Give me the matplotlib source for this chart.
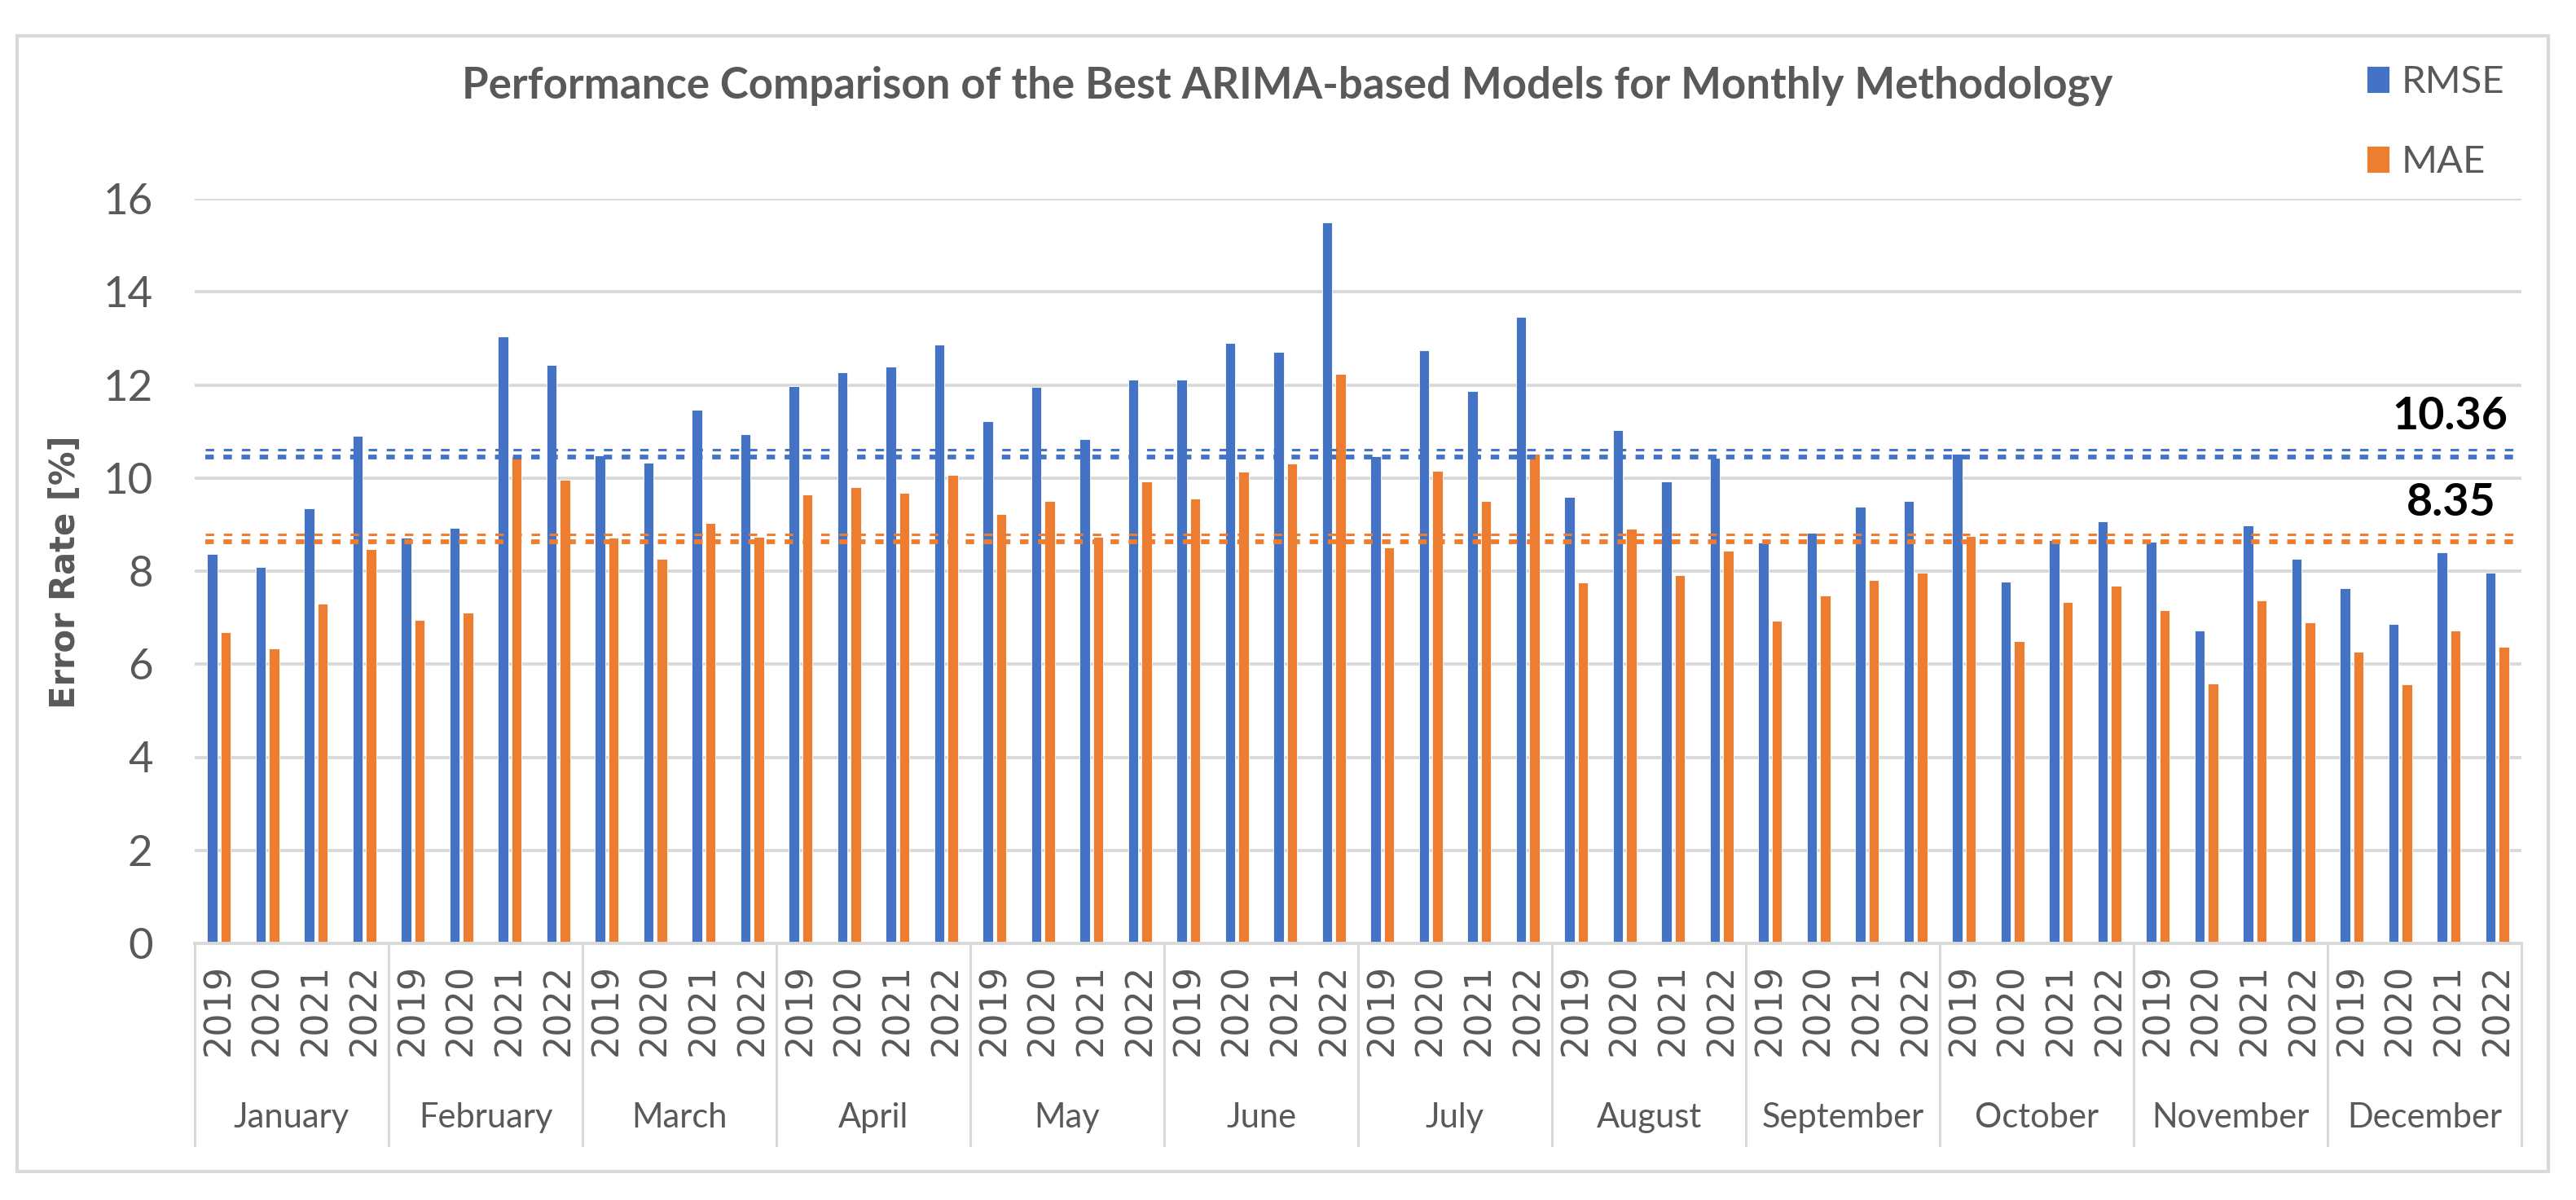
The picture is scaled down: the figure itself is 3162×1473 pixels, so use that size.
import matplotlib
matplotlib.use("Agg")
import matplotlib.pyplot as plt
from matplotlib.patches import Rectangle
from matplotlib import font_manager
import numpy as np

months = ["January", "February", "March", "April", "May", "June", "July",
          "August", "September", "October", "November", "December"]
years = ["2019", "2020", "2021", "2022"]

rmse = [8.36, 8.09, 9.35, 10.90,
        8.71, 8.92, 13.04, 12.43,
        10.49, 10.32, 11.47, 10.94,
        11.98, 12.27, 12.39, 12.87,
        11.22, 11.96, 10.83, 12.12,
        12.12, 12.90, 12.71, 15.50,
        10.47, 12.74, 11.87, 13.47,
        9.60, 11.03, 9.92, 10.43,
        8.61, 8.83, 9.38, 9.51,
        10.52, 7.77, 8.67, 9.07,
        8.63, 6.73, 8.98, 8.27,
        7.64, 6.86, 8.40, 7.97]
mae = [6.68, 6.34, 7.30, 8.47,
       6.95, 7.11, 10.46, 9.96,
       8.71, 8.27, 9.04, 8.73,
       9.64, 9.80, 9.68, 10.07,
       9.22, 9.50, 8.73, 9.92,
       9.55, 10.14, 10.31, 12.23,
       8.51, 10.15, 9.50, 10.52,
       7.76, 8.91, 7.91, 8.44,
       6.93, 7.48, 7.80, 7.96,
       8.76, 6.50, 7.33, 7.68,
       7.16, 5.59, 7.37, 6.90,
       6.27, 5.56, 6.73, 6.38]

avg_line_rmse = 10.53
avg_line_mae = 8.71
avg_label_rmse = "10.36"
avg_label_mae = "8.35"

BLUE = "#4472C4"
ORANGE = "#ED7D31"
GRAY_TXT = "#595959"
GRID = "#D9D9D9"

installed = {f.name for f in font_manager.fontManager.ttflist}
CAL = [f for f in ["Lato", "Open Sans", "DejaVu Sans"] if f in installed] + ["DejaVu Sans"]
plt.rcParams["lines.scale_dashes"] = False

W, H = 3162, 1473
fig = plt.figure(figsize=(W / 100, H / 100), dpi=100)
fig.patch.set_facecolor("white")

# outer border
fig.patches.append(Rectangle((21 / W, 1 - 1438 / H), (3128 - 21) / W, (1438 - 44) / H,
                             transform=fig.transFigure, fill=False,
                             edgecolor=GRID, linewidth=3))

left, right = 239 / W, 3095 / W
bottom = 1 - 1158 / H
top = 1 - 244 / H
ax = fig.add_axes([left, bottom, right - left, top - bottom])

n = len(rmse)
x = np.arange(n)
bw = 0.21
ax.bar(x - 0.135, rmse, width=bw, color=BLUE, edgecolor="white", linewidth=0.6, zorder=3, label="RMSE")
ax.bar(x + 0.135, mae, width=bw, color=ORANGE, edgecolor="white", linewidth=0.6, zorder=3, label="MAE")

ax.set_xlim(-0.5, n - 0.5)
ax.set_ylim(0, 16)
ax.set_yticks(np.arange(0, 17, 2))
ax.yaxis.grid(True, color=GRID, linewidth=2.8, zorder=0)
ax.set_axisbelow(True)
for s in ["top", "right", "left"]:
    ax.spines[s].set_visible(False)
ax.spines["bottom"].set_color(GRID)
ax.spines["bottom"].set_linewidth(2.8)
ax.spines["bottom"].set_zorder(4)

ax.tick_params(axis="y", length=0, pad=37, labelsize=38, labelcolor=GRAY_TXT)
for lab in ax.get_yticklabels():
    lab.set_family(CAL)

ax.set_xticks(x)
ax.set_xticklabels(years * len(months), rotation=90, fontsize=32, color=GRAY_TXT,
                   family="DejaVu Sans")
ax.tick_params(axis="x", length=0, pad=18)

# mean lines (double dotted)
x0, x1 = -0.28, n - 0.5
for val, col in [(avg_line_rmse, BLUE), (avg_line_mae, ORANGE)]:
    ax.plot([x0, x1], [val + 0.075, val + 0.075], color=col, linewidth=2.2,
            linestyle=(0, (7.5, 8.5)), zorder=5, solid_capstyle="butt")
    ax.plot([x0, x1], [val - 0.075, val - 0.075], color=col, linewidth=4.2,
            linestyle=(0, (7.5, 8.5)), zorder=5, solid_capstyle="butt")

ax.text(47.22, 11.33, avg_label_rmse, ha="right", va="center", fontsize=40,
        fontweight="bold", color="black", family=CAL, zorder=6)
ax.text(46.97, 9.47, avg_label_mae, ha="right", va="center", fontsize=40,
        fontweight="bold", color="black", family=CAL, zorder=6)

# month group separators and labels
trans = ax.get_xaxis_transform()
sep_bottom = -(1406 - 1158) / (1158 - 244)
for k in range(len(months) + 1):
    xb = -0.5 + 4 * k
    ax.plot([xb, xb], [0, sep_bottom], transform=trans, color=GRID,
            linewidth=2.2, clip_on=False, zorder=2)
month_y = -(1372 - 1158) / (1158 - 244)
for k, m in enumerate(months):
    ax.text(4 * k + 1.5, month_y, m, transform=trans, ha="center", va="center",
            fontsize=30, color=GRAY_TXT, family=CAL)

# title
fig.text(1580 / W, 1 - 120 / H,
         "Performance Comparison of the Best ARIMA-based Models for Monthly Methodology",
         ha="center", va="baseline", fontsize=38, fontweight="bold",
         color=GRAY_TXT, family=CAL)

# y label
fig.text(80 / W, 1 - 702 / H, "Error Rate [%]", rotation=90, ha="center", va="center",
         fontsize=30, fontweight="bold", color=GRAY_TXT, family="DejaVu Sans")

# legend
leg = fig.legend(loc="center left", bbox_to_anchor=(2905 / W, 1 - 150 / H),
                 frameon=False, handlelength=0.6, handleheight=0.7,
                 handletextpad=0.3, labelspacing=1.2, borderpad=0, borderaxespad=0,
                 prop={"family": CAL, "size": 34})
for t in leg.get_texts():
    t.set_color(GRAY_TXT)

fig.savefig("out.png", dpi=100, facecolor="white")
